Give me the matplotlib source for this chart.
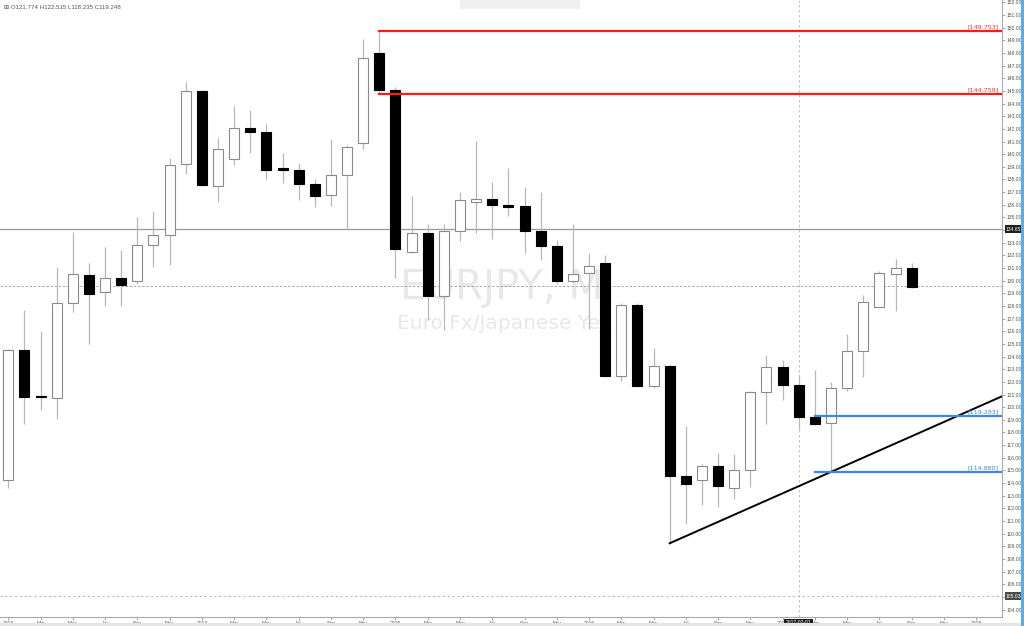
"""EURJPY monthly candles with support/resistance levels and trend line."""

import matplotlib

matplotlib.use("Agg")
import matplotlib.pyplot as plt
from matplotlib.patches import Rectangle

# monthly candles, Jan 2013 .. Sep 2017 (index 0 = Jan 2013)
opens = [114.22, 124.52, 120.90, 120.70, 128.24, 130.47, 129.08, 130.19, 130.00, 132.80,
         133.60, 139.20, 145.00, 137.46, 139.60, 142.10, 141.75, 138.90, 138.73, 137.62,
         136.76, 138.39, 140.92, 147.99, 145.05, 132.28, 133.80, 128.82, 133.96, 136.19,
         136.49, 136.00, 135.87, 133.96, 132.71, 129.99, 130.64, 131.38, 122.49, 128.06,
         121.70, 123.26, 114.56, 114.25, 115.38, 113.59, 115.04, 121.18, 123.15, 121.774,
         119.25, 118.77, 121.49, 124.47, 127.94, 130.55, 130.98]
highs = [124.60, 127.70, 126.00, 131.10, 133.85, 131.40, 132.70, 132.40, 135.00, 135.50,
         139.70, 145.70, 145.10, 141.30, 143.80, 143.50, 142.40, 140.10, 139.30, 138.00,
         141.20, 140.70, 149.10, 149.753, 145.30, 136.70, 134.50, 134.50, 137.00, 141.05,
         137.80, 138.90, 137.40, 137.00, 133.20, 134.50, 132.20, 132.00, 128.20, 128.20,
         124.65, 123.30, 118.50, 115.50, 116.40, 116.30, 121.30, 124.10, 123.70, 122.515,
         122.90, 122.00, 125.80, 128.90, 130.80, 131.70, 131.40]
lows = [113.60, 118.70, 119.80, 119.10, 127.50, 125.00, 128.00, 128.00, 129.70, 131.10,
        131.20, 138.40, 137.50, 136.25, 139.15, 140.10, 138.00, 137.70, 136.40, 135.80,
        135.90, 134.10, 140.40, 144.759, 130.20, 132.20, 126.90, 126.10, 133.10, 133.80,
        133.30, 135.10, 132.20, 131.60, 129.70, 129.90, 126.20, 122.40, 122.10, 121.60,
        121.50, 109.24, 110.80, 112.30, 112.10, 112.70, 113.70, 118.70, 120.60, 118.235,
        118.60, 114.880, 121.30, 122.40, 127.90, 127.60, 129.40]
closes = [124.52, 120.83, 120.80, 128.26, 130.53, 128.92, 130.19, 129.66, 132.80, 133.60,
          139.17, 145.00, 137.57, 140.41, 142.10, 141.75, 138.73, 138.75, 137.62, 136.67,
          138.39, 140.56, 147.58, 145.05, 132.49, 133.80, 128.82, 133.96, 136.35, 136.49,
          136.00, 135.85, 133.96, 132.71, 129.99, 130.53, 131.16, 122.49, 128.06, 121.67,
          123.26, 114.56, 113.93, 115.38, 113.80, 115.04, 121.18, 123.15, 121.75, 119.248,
          118.67, 121.49, 124.47, 128.34, 130.58, 130.98, 129.53]

# x-axis labels every second month, index 0 = Jan 2013
tick_labels = ["2013", "Mar", "May", "Jul", "Sep", "Nov",
               "2014", "Mar", "May", "Jul", "Sep", "Nov",
               "2015", "Mar", "May", "Jul", "Sep", "Nov",
               "2016", "Mar", "May", "Jul", "Sep", "Nov",
               "2017", "Mar", "May", "Jul", "Sep", "Nov",
               "2018"]

# drawn levels: (price, first month index)
red_levels = [(149.753, 23), (144.759, 23)]
blue_levels = [(119.283, 50), (114.880, 50)]
trend_start = (41, 109.24)
trend_through = (51, 114.88)
mid_line = 134.05
mid_label = "134.651"
last_line = 129.56
low_line = 105.038
cursor_month = 49
cursor_date = "2017-02-01"
header = "\u229e O121.774 H122.515 L118.235 C119.248"

X_MIN, X_MAX = -0.515, 61.6
Y_MIN, Y_MAX = 103.41, 152.19
SMALL = dict(family=["Liberation Sans", "DejaVu Sans"], size=3.6)

fig = plt.figure(figsize=(10.24, 6.26), dpi=100)
fig.patch.set_facecolor("white")
ax = fig.add_axes([0, 9 / 626, 1002 / 1024, 617 / 626])
ax.set_xlim(X_MIN, X_MAX)
ax.set_ylim(Y_MIN, Y_MAX)

# watermark
ax.text(30.6, 129.4, "EURJPY, M", ha="center", va="center", fontsize=29,
        color="#e8e8e8", zorder=0)
ax.text(30.8, 126.6, "Euro Fx/Japanese Yen", ha="center", va="center",
        fontsize=14.5, color="#e8e8e8", zorder=0)

# horizontal reference lines
ax.axhline(mid_line, color="#9a9a9a", lw=0.9, zorder=1)
ax.axhline(last_line, color="#9a9a9a", lw=0.6, ls=(0, (3, 2)), zorder=1)
ax.axhline(low_line, color="#b0b0b0", lw=0.7, ls=(0, (2, 3)), zorder=1)
ax.axvline(cursor_month, color="#b8b8b8", lw=0.6, ls=(0, (3, 3)), zorder=1)

body_w = 0.62
for i, (o, h, l, c) in enumerate(zip(opens, highs, lows, closes)):
    ax.vlines(i, l, h, color="#b8b8b8", lw=0.9, zorder=2)
    up = c >= o
    bottom = min(o, c)
    height = max(abs(c - o), 0.1)
    ax.add_patch(Rectangle((i - body_w / 2, bottom), body_w, height,
                           facecolor="white" if up else "black",
                           edgecolor="#8a8a8a" if up else "black",
                           lw=0.8, zorder=3))

# trend line out to the price scale
slope = (trend_through[1] - trend_start[1]) / (trend_through[0] - trend_start[0])
ax.plot([trend_start[0], X_MAX], [trend_start[1], trend_start[1] + slope * (X_MAX - trend_start[0])],
        color="black", lw=1.4, zorder=4)

for price, start in red_levels:
    ax.plot([start, X_MAX], [price, price], color="#ff1a1a", lw=1.6, zorder=4)
    ax.text(X_MAX - 0.2, price + 0.12, f"[{price:.3f}]", ha="right", va="bottom",
            fontsize=4.6, color="#ff3030", zorder=5)
for price, start in blue_levels:
    ax.plot([start, X_MAX], [price, price], color="#3c87e8", lw=1.6, zorder=4)
    ax.text(X_MAX - 0.2, price + 0.12, f"[{price:.3f}]", ha="right", va="bottom",
            fontsize=4.6, color="#3c87e8", zorder=5)

# price scale on the right
ax.yaxis.tick_right()
ticks = list(range(104, 153))
ax.set_yticks(ticks)
ax.set_yticklabels([f"{t:.3f}" for t in ticks], fontdict=SMALL)
ax.tick_params(axis="y", labelcolor="#555555", color="#999999",
               length=2, width=0.6, pad=1)
ax.set_xticks(range(0, 2 * len(tick_labels), 2))
ax.set_xticklabels(tick_labels, fontdict=SMALL)
ax.tick_params(axis="x", labelcolor="#555555", color="#999999",
               length=2, width=0.6, pad=0.8)

for side in ("top", "left"):
    ax.spines[side].set_visible(False)
for side in ("right", "bottom"):
    ax.spines[side].set_color("#aaaaaa")
    ax.spines[side].set_linewidth(0.8)

# boxed labels on the scales
box = dict(boxstyle="square,pad=0.3", facecolor="#1e1e1e", edgecolor="none")
ax.text(1.004, mid_line, mid_label, transform=ax.get_yaxis_transform(), ha="left",
        va="center", color="white", bbox=box, zorder=6, clip_on=False, **SMALL)
ax.text(1.004, low_line, f"{low_line:.3f}", transform=ax.get_yaxis_transform(), ha="left",
        va="center", color="white", bbox=dict(box, facecolor="#4a4a4a"),
        zorder=6, clip_on=False, **SMALL)
ax.text(cursor_month, -0.0052, cursor_date, transform=ax.get_xaxis_transform(),
        ha="center", va="top", color="white", bbox=box, zorder=6,
        clip_on=False, **SMALL)

# header and chrome
fig.text(0.004, 0.9885, header, ha="left", va="center", color="#555555",
         family=["Liberation Sans", "DejaVu Sans"], size=4.4)
fig.patches.append(Rectangle((460 / 1024, 617 / 626), 120 / 1024, 9 / 626,
                             transform=fig.transFigure, facecolor="#f0f0f0",
                             edgecolor="none"))
fig.patches.append(Rectangle((0, 0), 1, 3 / 626, transform=fig.transFigure,
                             facecolor="#e4e4e4", edgecolor="none"))
fig.patches.append(Rectangle((1021 / 1024, 0), 3 / 1024, 1, transform=fig.transFigure,
                             facecolor="#5aaee8", edgecolor="none"))

fig.savefig("out.png", dpi=100, facecolor="white")
